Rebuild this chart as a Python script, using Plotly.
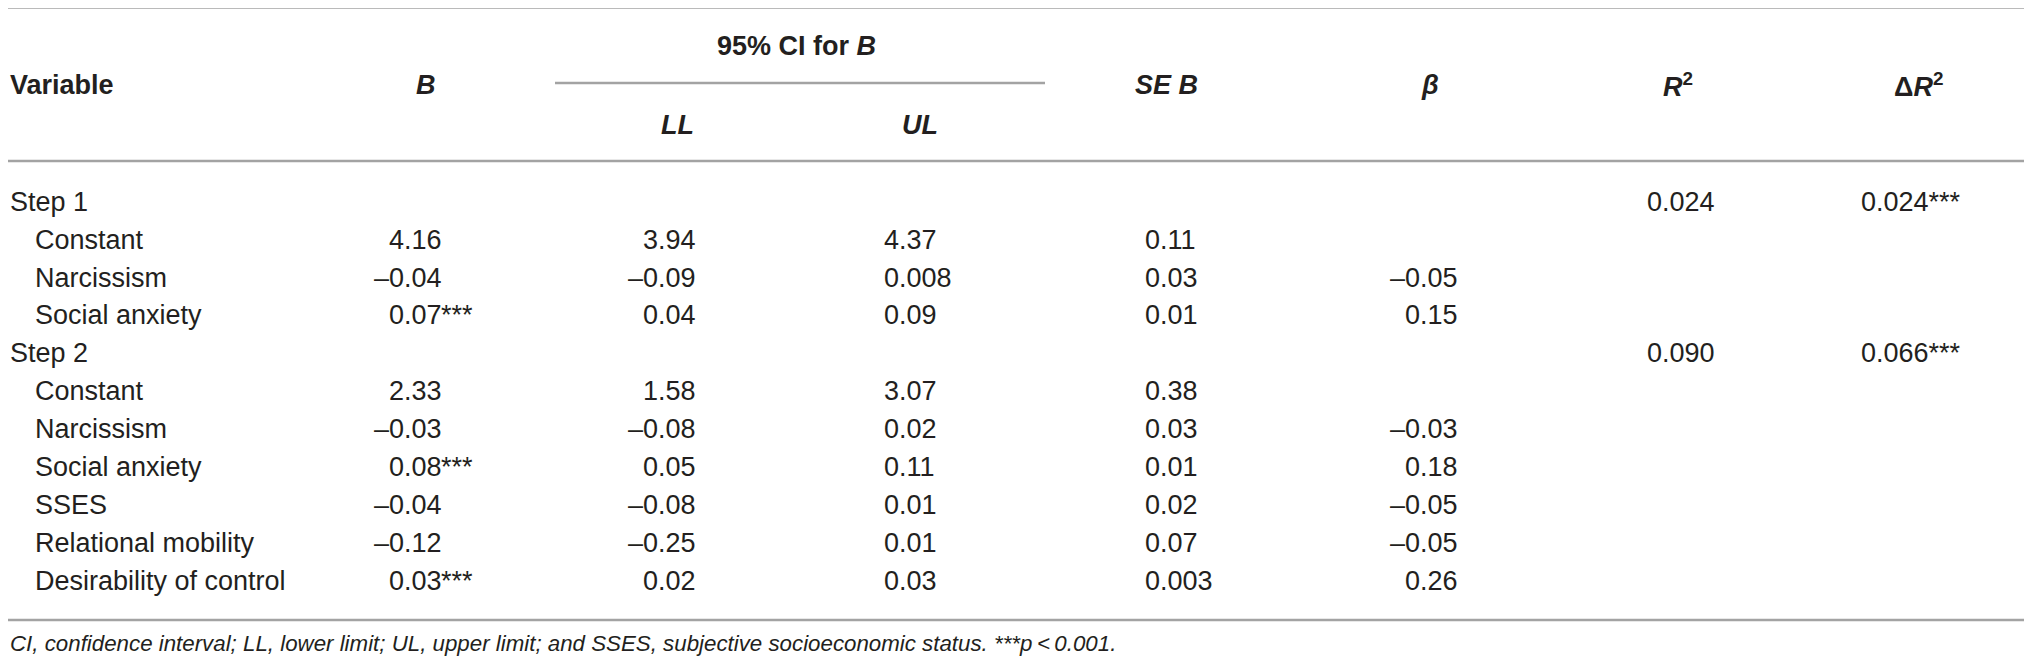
import plotly.graph_objects as go

W, H = 2032, 670
OFF = 8  # default page body margin, so data coords = page pixels

variables = ["Step 1", "Constant", "Narcissism", "Social anxiety", "Step 2", "Constant",
             "Narcissism", "Social anxiety", "SSES", "Relational mobility", "Desirability of control"]
indent = [0, 1, 1, 1, 0, 1, 1, 1, 1, 1, 1]
B = ["", "4.16", "\u20130.04", "0.07", "", "2.33", "\u20130.03", "0.08", "\u20130.04", "\u20130.12", "0.03"]
B_sig = ["", "", "", "***", "", "", "", "***", "", "", "***"]
LL = ["", "3.94", "\u20130.09", "0.04", "", "1.58", "\u20130.08", "0.05", "\u20130.08", "\u20130.25", "0.02"]
UL = ["", "4.37", "0.008", "0.09", "", "3.07", "0.02", "0.11", "0.01", "0.01", "0.03"]
SE_B = ["", "0.11", "0.03", "0.01", "", "0.38", "0.03", "0.01", "0.02", "0.07", "0.003"]
beta = ["", "", "\u20130.05", "0.15", "", "", "\u20130.03", "0.18", "\u20130.05", "\u20130.05", "0.26"]
R2 = ["0.024", "", "", "", "0.090", "", "", "", "", "", ""]
dR2 = ["0.024", "", "", "", "0.066", "", "", "", "", "", ""]
dR2_sig = ["***", "", "", "", "***", "", "", "", "", "", ""]

headers = ["<b>Variable</b>", "<b><i>B</i></b>", "<b>95% CI for <i>B</i></b>", "<b><i>LL</i></b>",
           "<b><i>UL</i></b>", "<b><i>SE B</i></b>", "<b><i>\u03b2</i></b>",
           "<b><i>R</i><sup>2</sup></b>", "<b>\u0394<i>R</i><sup>2</sup></b>"]
footnote = ("<i>CI, confidence interval; LL, lower limit; UL, upper limit; and SSES, "
            "subjective socioeconomic status. ***p\u2009<\u20090.001.</i>")

FONT = "Liberation Sans, Arial, sans-serif"
TXT = "#231f20"
LINE = "#a3a3a3"
FS = 27

fig = go.Figure()
fig.add_trace(go.Scatter(x=[OFF, W], y=[OFF, H], mode="markers", marker=dict(opacity=0),
                         hoverinfo="skip", showlegend=False))

anns = []
def T(x, y, text, anchor="left", size=FS):
    anns.append(dict(x=x, y=y, xref="x", yref="y", text=text, showarrow=False,
                     xanchor=anchor, yanchor="middle", font=dict(family=FONT, size=size, color=TXT)))

# header
T(OFF, 85, headers[0])
T(426, 85, headers[1], "center")
T(796, 46, headers[2], "center")
T(677, 125, headers[3], "center")
T(920, 125, headers[4], "center")
T(1166, 85, headers[5], "center")
T(1430, 85, headers[6], "center")
T(1678, 85, headers[7], "center")
T(1918, 85, headers[8], "center")

y0, dy = 201.7, 37.9
for i, v in enumerate(variables):
    y = y0 + i * dy
    T(OFF if indent[i] == 0 else 33, y, v)
    if B[i]:
        T(444, y, B[i], "right")
    if B_sig[i]:
        T(439, y, B_sig[i], "left")
    if LL[i]:
        T(698, y, LL[i], "right")
    if UL[i]:
        T(882, y, UL[i], "left")
    if SE_B[i]:
        T(1143, y, SE_B[i], "left")
    if beta[i]:
        T(1460, y, beta[i], "right")
    if R2[i]:
        T(1645, y, R2[i], "left")
    if dR2[i]:
        T(1859, y, dR2[i] + dR2_sig[i], "left")

T(OFF, 643, footnote, size=22.3)

shapes = []
def L(x0, x1, y):
    shapes.append(dict(type="line", xref="x", yref="y", x0=x0, x1=x1, y0=y, y1=y,
                       line=dict(color=LINE, width=2.7)))
L(OFF, W, 7.5)
L(555, 1045, 83)
L(OFF, W, 161)
L(OFF, W, 620)

fig.update_layout(width=W - OFF, height=H - OFF, margin=dict(l=0, r=0, t=0, b=0),
                  paper_bgcolor="white", plot_bgcolor="white",
                  xaxis=dict(range=[OFF, W], visible=False, fixedrange=True),
                  yaxis=dict(range=[H, OFF], visible=False, fixedrange=True),
                  annotations=anns, shapes=shapes)
fig.write_html("out.html")
